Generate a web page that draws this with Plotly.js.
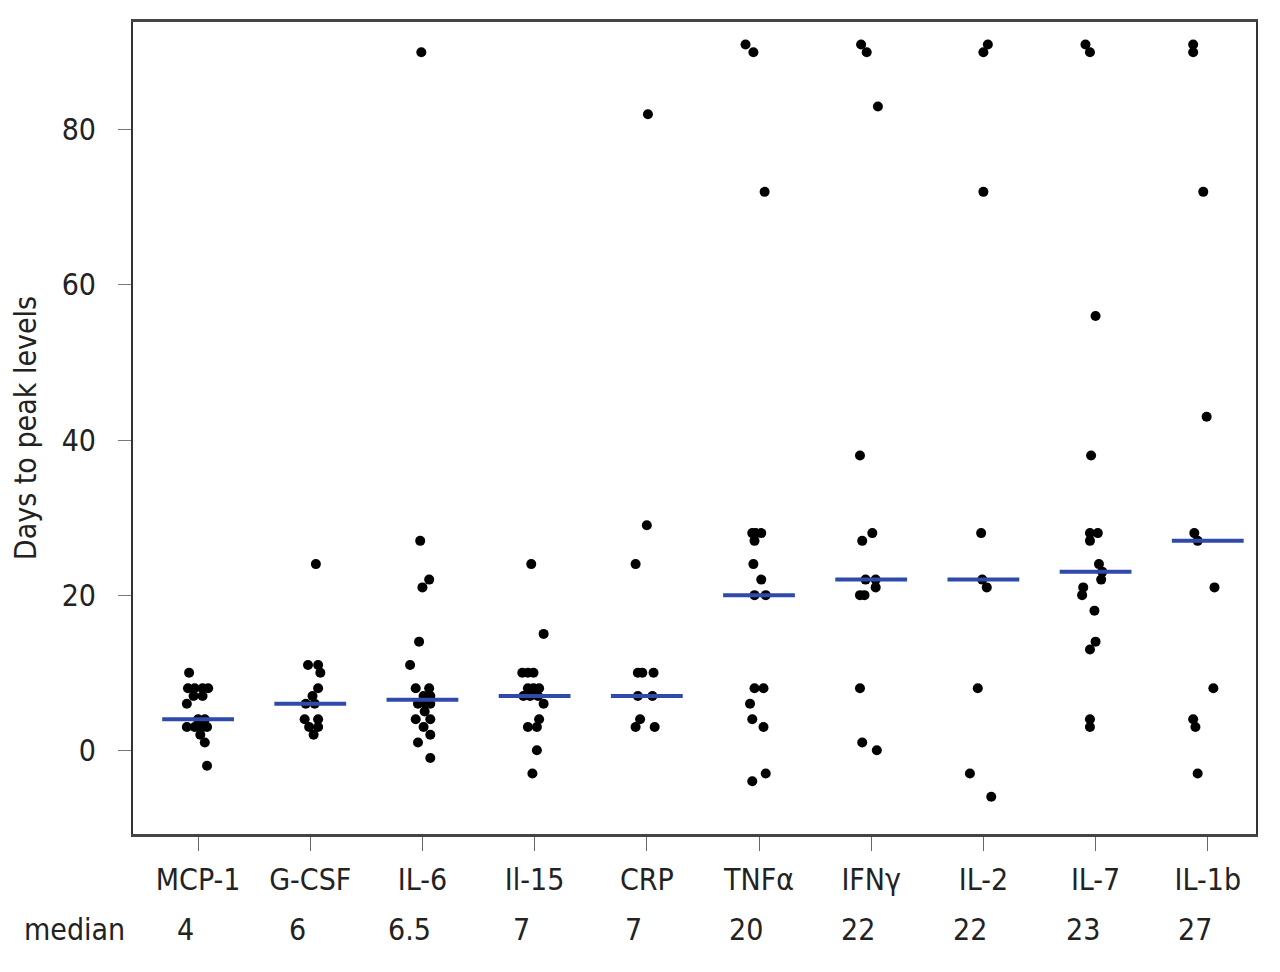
<!DOCTYPE html>
<html>
<head>
<meta charset="utf-8">
<script src="https://cdn.plot.ly/plotly-3.0.1.min.js"></script>
<style>html,body{margin:0;padding:0;background:#fff;}#chart{width:1280px;height:972px;}</style>
</head>
<body>
<div id="chart"></div>
<script>
// ---- data ----
var categories = ["MCP-1", "G-CSF", "IL-6", "Il-15", "CRP", "TNF\u03b1", "IFN\u03b3", "IL-2", "IL-7", "IL-1b"];
var medians = [4, 6, 6.5, 7, 7, 20, 22, 22, 23, 27];

var mcp1Days   = [10, 8, 8, 8, 8, 7, 7, 6, 4, 4, 3, 3, 3, 3, 2, 1, -2];
var mcp1Jitter = [-0.08, -0.09, -0.03, 0.04, 0.09, -0.04, 0.04, -0.10, 0.0, 0.06, -0.10, -0.03, 0.04, 0.08, 0.02, 0.06, 0.08];

var gcsfDays   = [24, 11, 11, 10, 8, 7, 6, 6, 4, 4, 3, 3, 2];
var gcsfJitter = [0.05, -0.02, 0.07, 0.09, 0.07, 0.02, -0.04, 0.04, -0.05, 0.07, -0.01, 0.07, 0.03];

var il6Days   = [90, 27, 22, 21, 14, 11, 8, 8, 7, 7, 6, 6, 6, 5, 4, 4, 3, 2, 1, -1];
var il6Jitter = [-0.01, -0.02, 0.06, 0.0, -0.03, -0.11, -0.06, 0.06, 0.01, 0.07, -0.04, 0.03, 0.07, 0.02, -0.06, 0.07, 0.01, 0.07, -0.04, 0.07];

var il15Days   = [24, 15, 10, 10, 10, 8, 8, 8, 7, 7, 7, 6, 4, 3, 3, 0, -3];
var il15Jitter = [-0.03, 0.08, -0.11, -0.06, -0.01, -0.06, -0.01, 0.04, -0.10, -0.04, 0.03, 0.08, 0.04, -0.06, 0.02, 0.02, -0.02];

var crpDays   = [82, 29, 24, 10, 10, 10, 7, 7, 4, 3, 3];
var crpJitter = [0.01, 0.0, -0.10, -0.08, -0.04, 0.06, -0.08, 0.05, -0.06, -0.10, 0.07];

var tnfDays   = [91, 90, 72, 28, 28, 28, 27, 24, 22, 20, 20, 8, 8, 6, 4, 3, -3, -4];
var tnfJitter = [-0.12, -0.05, 0.05, -0.06, -0.03, 0.02, -0.04, -0.05, 0.02, -0.04, 0.06, -0.04, 0.04, -0.08, -0.06, 0.04, 0.06, -0.06];

var ifnDays   = [91, 90, 83, 38, 28, 27, 22, 22, 21, 20, 20, 8, 1, 0];
var ifnJitter = [-0.09, -0.04, 0.06, -0.10, 0.01, -0.08, -0.05, 0.04, 0.04, -0.10, -0.06, -0.10, -0.08, 0.05];

var il2Days   = [91, 90, 72, 28, 22, 21, 8, -3, -6];
var il2Jitter = [0.04, 0.0, 0.0, -0.02, -0.01, 0.03, -0.05, -0.12, 0.07];

var il7Days   = [91, 90, 56, 38, 28, 28, 27, 24, 23, 22, 21, 20, 18, 14, 13, 4, 3];
var il7Jitter = [-0.09, -0.05, 0.0, -0.04, -0.05, 0.02, -0.05, 0.03, 0.06, 0.05, -0.11, -0.12, -0.01, 0.0, -0.05, -0.05, -0.05];

var il1bDays   = [91, 90, 72, 43, 28, 27, 21, 8, 4, 3, -3];
var il1bJitter = [-0.13, -0.13, -0.04, -0.01, -0.12, -0.09, 0.06, 0.05, -0.13, -0.11, -0.09];

var yTicks = [0, 20, 40, 60, 80];

// ---- build traces ----
var daysList = [mcp1Days, gcsfDays, il6Days, il15Days, crpDays, tnfDays, ifnDays, il2Days, il7Days, il1bDays];
var jitterList = [mcp1Jitter, gcsfJitter, il6Jitter, il15Jitter, crpJitter, tnfJitter, ifnJitter, il2Jitter, il7Jitter, il1bJitter];

var px = [], py = [];
daysList.forEach(function (d, i) {
  d.forEach(function (v, j) { px.push(i + jitterList[i][j]); py.push(v); });
});

var halfW = 0.32;
var mx = [], my = [];
medians.forEach(function (m, i) {
  mx.push(i - halfW, i + halfW, null);
  my.push(m, m, null);
});

var FONT = "'Liberation Sans Narrow', 'Arial Narrow', 'DejaVu Sans Condensed', sans-serif";
var FS = 30;

var traces = [
  { type: 'scatter', mode: 'markers', x: px, y: py,
    marker: { color: '#000', size: 10, line: { width: 0 } }, hoverinfo: 'y', showlegend: false },
  { type: 'scatter', mode: 'lines', x: mx, y: my,
    line: { color: '#2f4aa8', width: 4 }, hoverinfo: 'skip', showlegend: false }
];

var annotations = medians.map(function (m, i) {
  return { x: i, xref: 'x', y: -0.118, yref: 'paper', text: String(m), showarrow: false, xshift: -13,
           xanchor: 'center', yanchor: 'middle', font: { family: FONT, size: FS, color: '#222' } };
});
annotations.push({ x: -0.052, xref: 'paper', y: -0.118, yref: 'paper', text: 'median', showarrow: false,
                   xanchor: 'center', yanchor: 'middle', font: { family: FONT, size: FS, color: '#222' } });

var layout = {
  width: 1280, height: 972,
  margin: { l: 133, r: 24, t: 22, b: 138 },
  paper_bgcolor: '#fff', plot_bgcolor: '#fff',
  font: { family: FONT, size: FS, color: '#222' },
  xaxis: {
    range: [-0.58, 9.43], tickvals: categories.map(function (c, i) { return i; }), ticktext: categories,
    showgrid: false, zeroline: false, showline: true, linecolor: '#444', linewidth: 3, mirror: true,
    ticks: 'outside', ticklen: 14, tickcolor: '#666', tickwidth: 1, ticklabelstandoff: 3,
    tickfont: { family: FONT, size: FS, color: '#222' }
  },
  yaxis: {
    range: [-10.8, 93.9], tickvals: yTicks, ticktext: yTicks.map(String),
    showgrid: false, zeroline: false, showline: true, linecolor: '#333', linewidth: 2, mirror: true,
    ticks: 'outside', ticklen: 13, tickcolor: '#777', tickwidth: 1, ticklabelstandoff: 16,
    tickfont: { family: FONT, size: FS, color: '#222' },
    title: { text: 'Days to peak levels', standoff: 16, font: { family: FONT, size: FS, color: '#222' } }
  },
  annotations: annotations
};

Plotly.newPlot('chart', traces, layout, { staticPlot: true });
</script>
</body>
</html>
